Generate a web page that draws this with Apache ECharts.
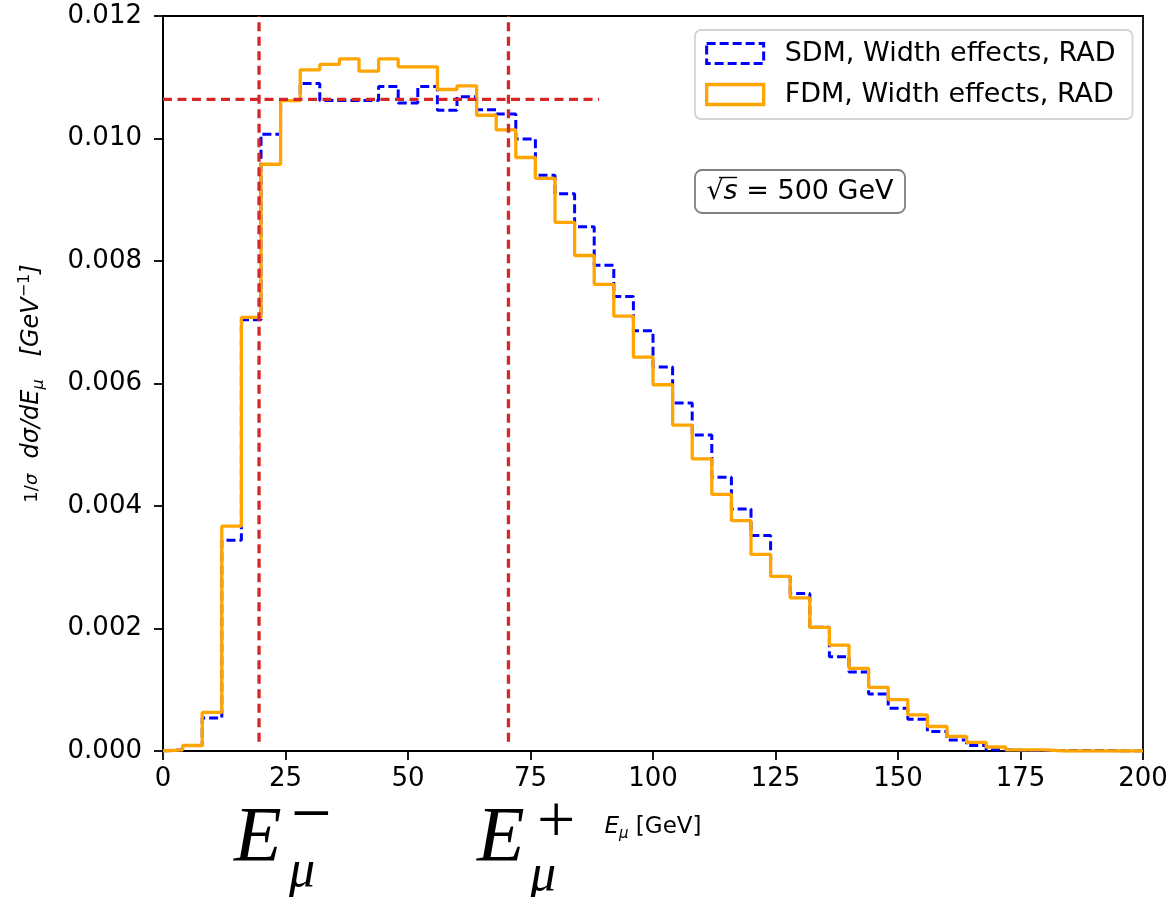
<!DOCTYPE html>
<html>
<head>
<meta charset="utf-8">
<script src="https://cdn.jsdelivr.net/npm/echarts@6/dist/echarts.min.js"></script>
<style>
html,body{margin:0;padding:0;background:#fff;}
#chart{width:1172px;height:897px;}
</style>
</head>
<body>
<div id="chart"></div>
<script>
// Bin edges (GeV), 4 GeV bins from 0 to 200
const binEdges = [0,4,8,12,16,20,24,28,32,36,40,44,48,52,56,60,64,68,72,76,80,84,88,92,96,100,
  104,108,112,116,120,124,128,132,136,140,144,148,152,156,160,164,168,172,176,180,184,188,192,196,200];

// SDM, Width effects, RAD (blue dashed)
const sdmValues = [0.00002,0.00009,0.00054,0.00344,0.00704,0.01007,0.01062,0.01090,0.01062,0.01062,
  0.01062,0.01085,0.01058,0.01085,0.01046,0.01068,0.01047,0.01040,0.00999,0.00940,
  0.00910,0.00856,0.00793,0.00742,0.00686,0.00627,0.00568,0.00516,0.00447,0.00395,
  0.00352,0.00285,0.00257,0.00202,0.00154,0.00129,0.00093,0.00070,0.00052,0.00032,
  0.00018,0.00009,0.00002,0.00001,0.00001,0.00001,0.00001,0.00001,0,0];

// FDM, Width effects, RAD (orange solid)
const fdmValues = [0.00002,0.00009,0.00063,0.00367,0.00708,0.00958,0.01062,0.01112,0.01121,0.01130,
  0.01110,0.01130,0.01117,0.01117,0.01080,0.01086,0.01038,0.01014,0.00969,0.00935,
  0.00863,0.00809,0.00762,0.00710,0.00643,0.00598,0.00532,0.00477,0.00419,0.00376,
  0.00321,0.00285,0.00250,0.00202,0.00173,0.00135,0.00104,0.00084,0.00059,0.00040,
  0.00024,0.00014,0.000065,0.00002,0.00002,0,0,0,0,0];

const seriesNames = ['SDM, Width effects, RAD', 'FDM, Width effects, RAD'];
const xTicks = [0,25,50,75,100,125,150,175,200];
const yTicks = [0,0.002,0.004,0.006,0.008,0.010,0.012];

// Reference lines
const eMuMinus = 19.6;
const eMuPlus = 70.5;
const vLineRange = [0.00015, 0.012];
const plateauLevel = 0.01064;
const plateauRange = [0, 89];

function stepData(edges, vals) {
  const d = [[edges[0], 0]];
  for (let i = 0; i < vals.length; i++) d.push([edges[i], vals[i]]);
  d.push([edges[edges.length - 1], vals[vals.length - 1]]);
  d.push([edges[edges.length - 1], 0]);
  return d;
}

const chart = echarts.init(document.getElementById('chart'), null, {renderer: 'canvas'});
const FONT = 'DejaVu Sans';
const SERIF = 'Liberation Serif';
const red = '#d62728';
const redLine = {color: red, width: 3.3, type: [9, 5.5]};

const option = {
  animation: false,
  backgroundColor: '#fff',
  grid: {left: 163, top: 16, right: 29, bottom: 146, show: true, borderColor: '#000', borderWidth: 1.8, backgroundColor: 'transparent'},
  xAxis: {
    type: 'value', min: xTicks[0], max: xTicks[xTicks.length - 1], interval: 25,
    axisLine: {show: true, onZero: false, lineStyle: {color: '#000', width: 1.8}},
    axisTick: {show: true, inside: false, length: 9, lineStyle: {color: '#000', width: 1.8}},
    splitLine: {show: false},
    axisLabel: {color: '#000', fontFamily: FONT, fontSize: 26, margin: 15},
    name: '{m|E}{sub|μ} [GeV]',
    nameLocation: 'middle', nameGap: 61,
    nameTextStyle: {
      color: '#000', fontFamily: FONT, fontSize: 23,
      rich: {
        m: {fontStyle: 'italic', fontSize: 23, fontFamily: FONT, lineHeight: 30},
        sub: {fontStyle: 'italic', fontSize: 15, fontFamily: FONT, verticalAlign: 'bottom', lineHeight: 15}
      }
    }
  },
  yAxis: {
    type: 'value', min: yTicks[0], max: yTicks[yTicks.length - 1], interval: 0.002,
    axisLine: {show: true, onZero: false, lineStyle: {color: '#000', width: 1.8}},
    axisTick: {show: true, inside: false, length: 9, lineStyle: {color: '#000', width: 1.8}},
    splitLine: {show: false},
    axisLabel: {color: '#000', fontFamily: FONT, fontSize: 26, margin: 21, formatter: v => v.toFixed(3)},
    name: '{fr|1/}{frs|σ}  {m|dσ/dE}{sub|μ}   {m|[GeV}{sup|−1}{m|]}',
    nameLocation: 'middle', nameRotate: 90, nameGap: 116,
    nameTextStyle: {
      color: '#000', fontFamily: FONT, fontSize: 24,
      rich: {
        fr: {fontSize: 18, fontFamily: FONT, lineHeight: 30},
        frs: {fontSize: 18, fontStyle: 'italic', fontFamily: FONT, lineHeight: 30},
        m: {fontStyle: 'italic', fontSize: 24, fontFamily: FONT, lineHeight: 30},
        sub: {fontStyle: 'italic', fontSize: 16, fontFamily: FONT, verticalAlign: 'bottom', lineHeight: 16},
        sup: {fontSize: 16, fontFamily: FONT, verticalAlign: 'top', lineHeight: 16}
      }
    }
  },
  legend: {
    orient: 'vertical', left: 695, top: 30,
    itemWidth: 57, itemHeight: 20, itemGap: 14,
    padding: [10, 17, 11, 10],
    backgroundColor: '#fff', borderColor: '#d4d4d4', borderWidth: 1.8, borderRadius: 6,
    textStyle: {color: '#000', fontFamily: FONT, fontSize: 27, padding: [0, 0, 0, 16]},
    selectedMode: false,
    data: [
      {name: seriesNames[0], icon: 'rect', itemStyle: {color: 'rgba(255,255,255,0)', borderColor: '#0000ff', borderWidth: 3, borderType: [9, 4]}},
      {name: seriesNames[1], icon: 'rect', itemStyle: {color: 'rgba(255,255,255,0)', borderColor: '#ffa500', borderWidth: 3.3, borderType: 'solid'}}
    ]
  },
  graphic: [
    {type: 'rect', shape: {x: 695, y: 170, width: 210, height: 43, r: 7},
     style: {fill: '#fff', stroke: '#808080', lineWidth: 1.8}, z: 100},
    {type: 'text', x: 800, y: 192, z: 101,
     style: {text: '{r|√}{s|s}{r| = 500 GeV}', align: 'center', verticalAlign: 'middle',
       rich: {r: {fontFamily: FONT, fontSize: 27, fill: '#000'}, s: {fontFamily: FONT, fontSize: 27, fontStyle: 'italic', fill: '#000'}}}},
    {type: 'line', z: 102, shape: {x1: 719, y1: 177.5, x2: 737, y2: 177.5}, style: {stroke: '#000', lineWidth: 1.4}},
    // E_mu^- label
    {type: 'text', x: 234, y: 800, style: {text: 'E', fontFamily: SERIF, fontStyle: 'italic', fontSize: 78, fill: '#000', verticalAlign: 'top'}},
    {type: 'text', x: 291, y: 782, style: {text: '−', fontFamily: SERIF, fontSize: 72, fill: '#000', verticalAlign: 'top'}},
    {type: 'text', x: 289, y: 846, style: {text: 'μ', fontFamily: SERIF, fontStyle: 'italic', fontSize: 52, fill: '#000', verticalAlign: 'top'}},
    // E_mu^+ label
    {type: 'text', x: 477, y: 800, style: {text: 'E', fontFamily: SERIF, fontStyle: 'italic', fontSize: 78, fill: '#000', verticalAlign: 'top'}},
    {type: 'text', x: 537, y: 790, style: {text: '+', fontFamily: SERIF, fontSize: 68, fill: '#000', verticalAlign: 'top'}},
    {type: 'text', x: 530, y: 850, style: {text: 'μ', fontFamily: SERIF, fontStyle: 'italic', fontSize: 52, fill: '#000', verticalAlign: 'top'}}
  ],
  series: [
    {name: seriesNames[0], type: 'line', step: 'end', data: stepData(binEdges, sdmValues),
     showSymbol: false, symbol: 'none', color: '#0000ff',
     lineStyle: {color: '#0000ff', width: 3, type: [9, 4]}, z: 2},
    {name: seriesNames[1], type: 'line', step: 'end', data: stepData(binEdges, fdmValues),
     showSymbol: false, symbol: 'none', color: '#ffa500',
     lineStyle: {color: '#ffa500', width: 3.3, type: 'solid'}, z: 3},
    {name: 'Eminus', type: 'line', data: [[eMuMinus, vLineRange[0]], [eMuMinus, vLineRange[1]]],
     symbol: 'none', lineStyle: redLine, silent: true, z: 4},
    {name: 'Eplus', type: 'line', data: [[eMuPlus, vLineRange[0]], [eMuPlus, vLineRange[1]]],
     symbol: 'none', lineStyle: redLine, silent: true, z: 4},
    {name: 'plateau', type: 'line', data: [[plateauRange[0], plateauLevel], [plateauRange[1], plateauLevel]],
     symbol: 'none', lineStyle: redLine, silent: true, z: 4}
  ]
};
chart.setOption(option);
</script>
</body>
</html>
